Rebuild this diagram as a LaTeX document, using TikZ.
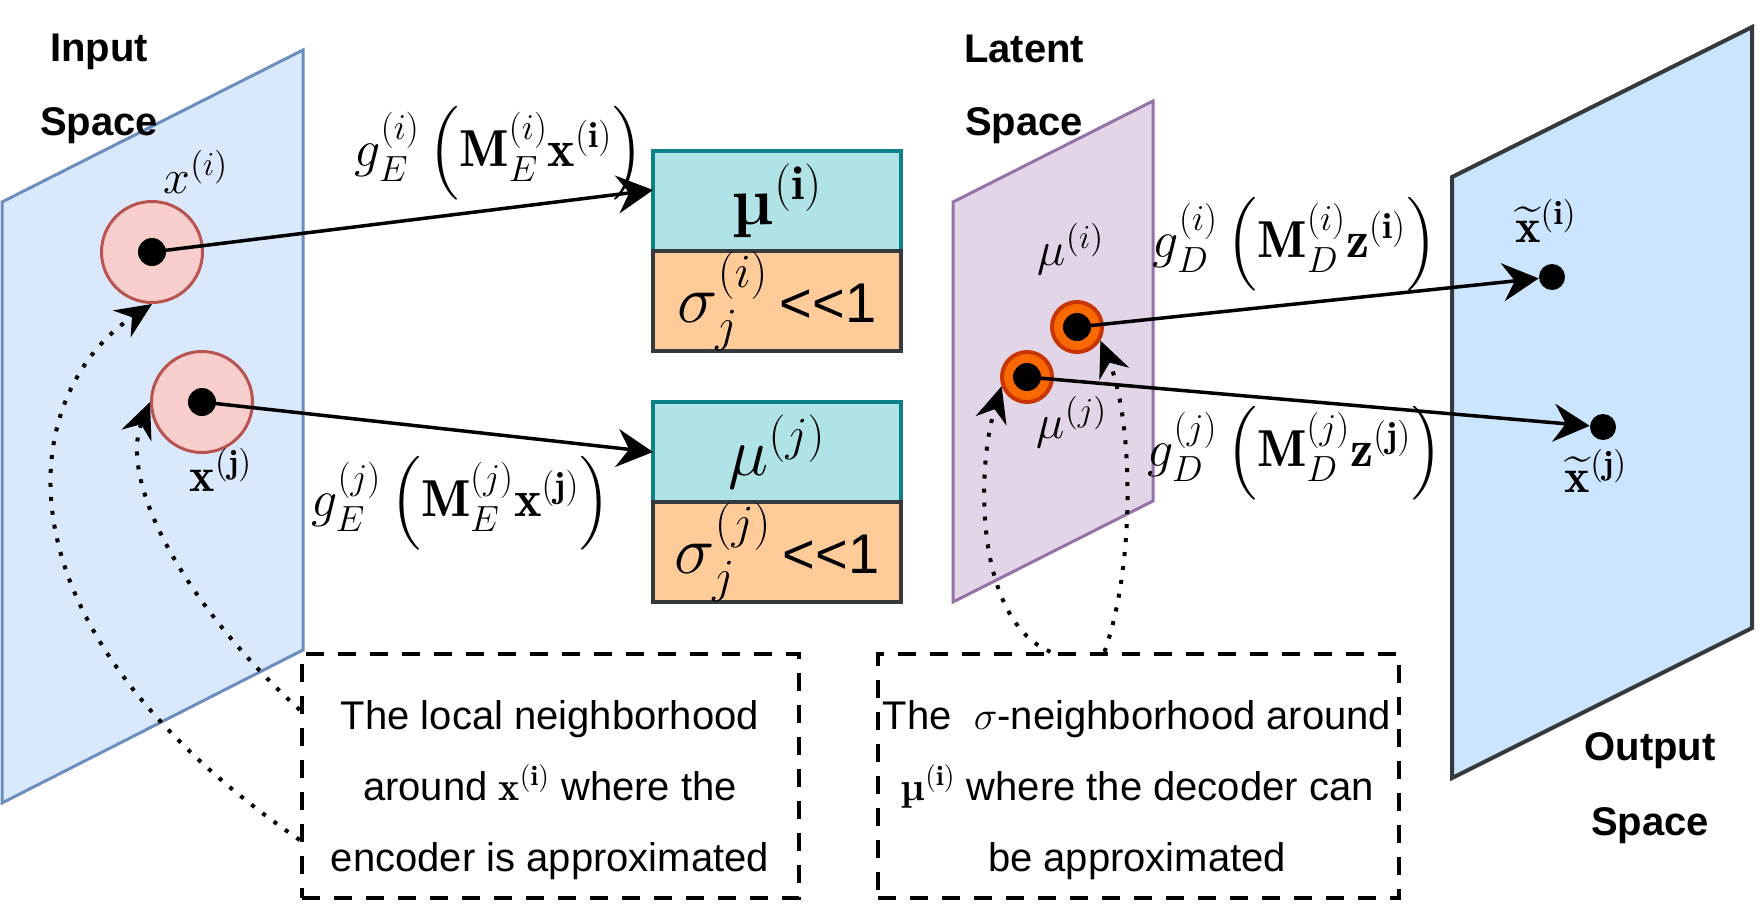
\RequirePackage{fix-cm}
\documentclass[tikz,border=0pt]{standalone}
\usepackage{amsmath,amssymb}
\usepackage{fontspec}
\setsansfont{Liberation Sans}
\usetikzlibrary{arrows.meta,positioning}

\definecolor{inplane}{HTML}{DAE8FC}
\definecolor{inplaneline}{HTML}{6C8EBF}
\definecolor{latplane}{HTML}{E1D5E7}
\definecolor{latplaneline}{HTML}{9673A6}
\definecolor{outplane}{HTML}{CCE5FF}
\definecolor{darkline}{HTML}{36393D}
\definecolor{ringred}{HTML}{F8CECC}
\definecolor{ringredline}{HTML}{B85450}
\definecolor{ringorange}{HTML}{FA6800}
\definecolor{ringorangeline}{HTML}{C73500}
\definecolor{mufill}{HTML}{B0E3E6}
\definecolor{muline}{HTML}{0E8088}
\definecolor{sigfill}{HTML}{FFCC99}

\newcommand{\bmu}{\text{\normalfont\bfseries µ}}
\newcommand{\muchless}{{\sffamily\fontsize{28}{32}\selectfont <\kern0pt<\kern0pt1}}

\tikzset{
  planeline/.style={line width=1.5pt, line join=miter},
  spacetext/.style={font=\sffamily\bfseries\fontsize{20}{24}\selectfont, anchor=base, inner sep=0pt},
  inring/.style={circle, minimum size=50.5pt, inner sep=0pt, fill=ringred, draw=ringredline, line width=1.5pt},
  latring/.style={circle, minimum size=25pt, inner sep=0pt, fill=ringorange, draw=ringorangeline, line width=2pt},
  blackdot/.style={circle, fill=black, minimum size=14pt, inner sep=0pt},
  mubox/.style={rectangle, minimum width=124pt, minimum height=50pt, outer sep=0pt, inner sep=0pt,
    fill=mufill, draw=muline, line width=2pt, font=\fontsize{34}{40}\selectfont},
  sigbox/.style={mubox, fill=sigfill, draw=darkline},
  mathlbl/.style={font=\fontsize{24}{28}\selectfont, inner sep=0pt},
  maplbl/.style={font=\fontsize{26}{30}\selectfont, inner sep=0pt},
  maparr/.style={line width=1.75pt, -{Stealth[length=18pt, width=19pt, inset=6pt]}},
  nbhdarr/.style={line width=2pt, dash pattern=on 2pt off 5pt, -{Stealth[length=18pt, width=16pt, inset=6pt]}},
  notebox/.style={rectangle, draw=black, line width=2.2pt, dash pattern=on 9pt off 7pt, minimum height=122pt, inner sep=0pt},
  notetext/.style={font=\sffamily\fontsize{20}{35.5}\selectfont, align=center, inner sep=0pt},
}

\begin{document}
\begin{tikzpicture}[x=0.5pt, y=-0.5pt]
  \useasboundingbox (0,0) rectangle (1760,905);

  % Planes
  \draw[planeline, fill=inplane, draw=inplaneline] (2,202) -- (303,50) -- (303,650) -- (2,803) -- cycle;
  \draw[planeline, fill=latplane, draw=latplaneline] (953,202) -- (1153,101) -- (1153,501) -- (953,602) -- cycle;
  \draw[planeline, line width=2pt, fill=outplane, draw=darkline] (1452,177) -- (1752,27) -- (1752,628) -- (1452,778) -- cycle;

  \node[spacetext] (inA) at (99,61) {Input};
  \node[spacetext] (inB) at (99,135) {Space};
  \node[spacetext] (latA) at (1024,62) {Latent};
  \node[spacetext] (latB) at (1024,135) {Space};
  \node[spacetext] (outA) at (1650,760) {Output};
  \node[spacetext] (outB) at (1650,835) {Space};

  % Mean and spread boxes
  \node[mubox] (mui) at (777,201) {$\bmu^{(\mathbf{i})}$};
  \node[sigbox, below=0pt of mui] (sigi) {$\sigma_j^{(i)}$\,\muchless};
  \node[mubox] (muj) at (777,452) {$\mu^{(j)}$};
  \node[sigbox, below=0pt of muj] (sigj) {$\sigma_j^{(j)}$\,\muchless};

  % Points
  \node[inring] (ci) at (152,252) {};
  \node[blackdot] (di) at (ci) {};
  \node[inring] (cj) at (202,402) {};
  \node[blackdot] (dj) at (cj) {};
  \node[latring] (li) at (1077,327) {};
  \node[blackdot] (lidot) at (li) {};
  \node[latring] (lj) at (1027,377) {};
  \node[blackdot] (ljdot) at (lj) {};
  \node[blackdot, minimum size=13pt] (oi) at (1552,277) {};
  \node[blackdot, minimum size=13pt] (oj) at (1603,427) {};

  % Labels
  \node[mathlbl] (xi) at (196,172) {$x^{(i)}$};
  \node[mathlbl] (xj) at (221,470) {$\mathbf{x}^{(\mathbf{j})}$};
  \node[maplbl] (gei) at (499,153) {$g_E^{(i)}\left(\mathbf{M}_E^{(i)}\mathbf{x}^{(\mathbf{i})}\right)$};
  \node[maplbl] (gej) at (461,503) {$g_E^{(j)}\left(\mathbf{M}_E^{(j)}\mathbf{x}^{(\mathbf{j})}\right)$};
  \node[mathlbl] (zi) at (1071,249) {$\mu^{(i)}$};
  \node[mathlbl] (zj) at (1072,422) {$\mu^{(j)}$};
  \node[maplbl] (gdi) at (1295,244) {$g_D^{(i)}\left(\mathbf{M}_D^{(i)}\mathbf{z}^{(\mathbf{i})}\right)$};
  \node[maplbl] (gdj) at (1295,453) {$g_D^{(j)}\left(\mathbf{M}_D^{(j)}\mathbf{z}^{(\mathbf{j})}\right)$};
  \node[mathlbl] (xti) at (1546,221) {$\widetilde{\mathbf{x}}^{(\mathbf{i})}$};
  \node[mathlbl] (xtj) at (1596,471) {$\widetilde{\mathbf{x}}^{(\mathbf{j})}$};

  % Maps
  \draw[maparr] (di.center) -- ([yshift=5.5pt]mui.west);
  \draw[maparr] (dj.center) -- (muj.west);
  \draw[maparr] (lidot.center) -- (oi);
  \draw[maparr] (ljdot.center) -- (oj);

  % Notes
  \node[notebox, minimum width=248.5pt] (nbL) at (550.5,776) {};
  \node[notetext] (ntL) at (550,790) {The local neighborhood\\ around $\mathbf{x}^{(\mathbf{i})}$ where the\\ encoder is approximated};
  \node[notebox, minimum width=260.5pt] (nbR) at (1138.5,776) {};
  \node[notetext] (ntR) at (1137,790) {The~ $\sigma$-neighborhood around\\ $\bmu^{(\mathbf{i})}$ where the decoder can\\ be approximated};

  \coordinate (s1) at ([yshift=33pt]nbL.west);
  \coordinate (s2) at ([yshift=-32pt]nbL.west);
  \coordinate (t1) at ([xshift=-44pt]nbR.north);
  \coordinate (t2) at ([xshift=-17pt]nbR.north);

  % Neighborhoods
  \draw[nbhdarr] (s2) .. controls +(-320,-220) and +(-132,87) .. (ci.south);
  \draw[nbhdarr] (s1) .. controls +(-120,-110) and +(-31,77) .. (cj.west);
  \draw[nbhdarr] (t1) .. controls +(-75,-31) and +(-26,85) .. (lj.200);
  \draw[nbhdarr] (t2) .. controls +(32,-91) and +(32,77) .. (li.-30);
\end{tikzpicture}
\end{document}
